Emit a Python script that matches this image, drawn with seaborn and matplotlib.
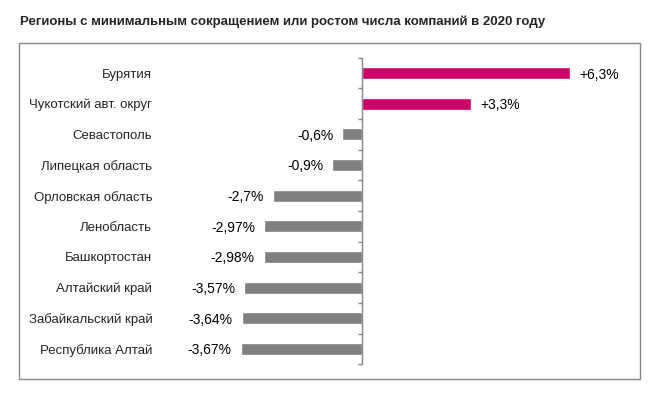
import matplotlib
matplotlib.use('Agg')
import matplotlib.pyplot as plt
import seaborn as sns
from matplotlib.patches import Rectangle
from matplotlib.ticker import FixedLocator

# данные
regions = ['Бурятия', 'Чукотский авт. округ', 'Севастополь', 'Липецкая область',
           'Орловская область', 'Ленобласть', 'Башкортостан', 'Алтайский край',
           'Забайкальский край', 'Республика Алтай']
changes = [6.3, 3.3, -0.6, -0.9, -2.7, -2.97, -2.98, -3.57, -3.64, -3.67]
value_labels = ['+6,3%', '+3,3%', '-0,6%', '-0,9%', '-2,7%', '-2,97%', '-2,98%',
                '-3,57%', '-3,64%', '-3,67%']
title = 'Регионы с минимальным сокращением или ростом числа компаний в 2020 году'

pos_color = '#CC0066'
neg_color = '#808080'
colors = [pos_color if v > 0 else neg_color for v in changes]

sns.set_style('white')
plt.rcParams['font.family'] = ['Liberation Sans', 'DejaVu Sans']

fig = plt.figure(figsize=(6.62, 3.98), dpi=100)
ax = fig.add_axes([160 / 662, 0.0847, 460 / 662, 0.7704])

sns.barplot(x=changes, y=regions, hue=regions, palette=colors, orient='h',
            width=0.4, legend=False, saturation=1, ax=ax)

for cont, lab in zip(ax.containers, value_labels):
    txts = ax.bar_label(cont, labels=[lab], padding=6.5, fontsize=10, color='#000000')
    for t in txts:
        t.set_verticalalignment('center_baseline')

ax.set_xlim(-6.121, 7.818)
ax.set_ylim(len(regions) - 0.5, -0.5)
ax.set_xticks([])
ax.set_xlabel('')
ax.set_ylabel('')

for s in ['top', 'right', 'bottom']:
    ax.spines[s].set_visible(False)
ax.spines['left'].set_position(('data', 0))
ax.spines['left'].set_color('#868686')
ax.spines['left'].set_linewidth(1)

ax.yaxis.set_minor_locator(FixedLocator([i - 0.5 for i in range(len(regions) + 1)]))
ax.tick_params(axis='y', which='major', length=0, pad=151, labelsize=9.5)
ax.tick_params(axis='y', which='minor', length=3, width=1, color='#868686', left=True)
for t in ax.get_yticklabels():
    t.set_verticalalignment('center_baseline')

fig.patches.append(Rectangle((19 / 662, 1 - 379 / 398), 621 / 662, 336 / 398,
                             transform=fig.transFigure, fill=False,
                             edgecolor='#868686', linewidth=1))

fig.text(20 / 662, 1 - 22 / 398, title, fontsize=9.5, fontweight='bold',
         va='center', ha='left')

fig.savefig('out.png', dpi=100)
